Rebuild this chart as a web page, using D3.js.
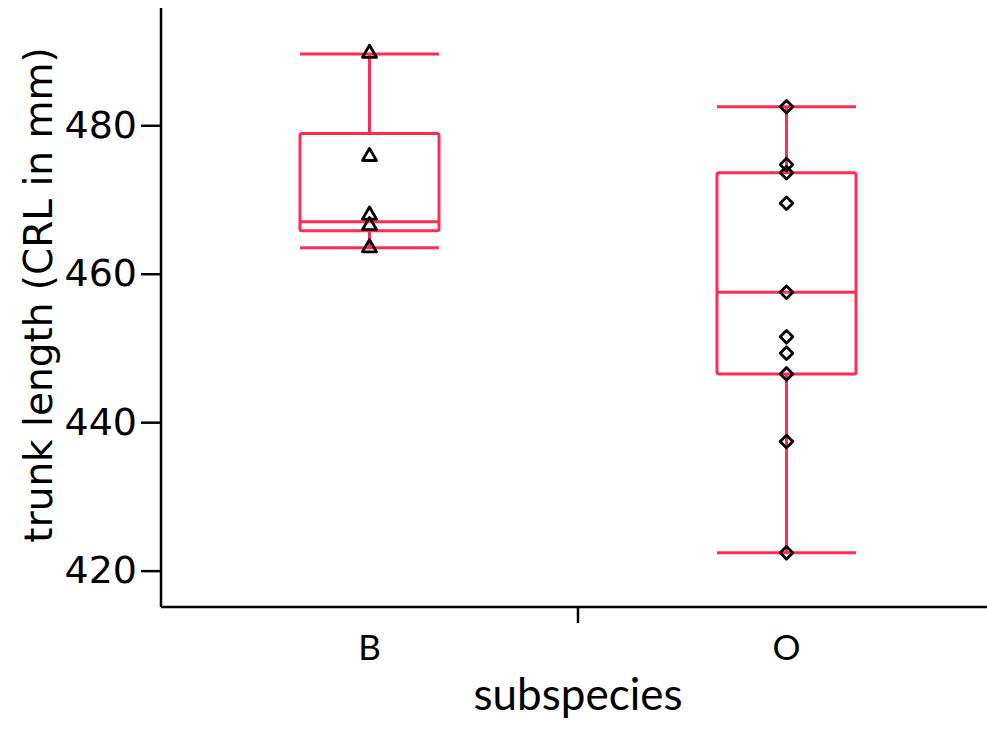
<!DOCTYPE html>
<html>
<head>
<meta charset="utf-8">
<script src="https://cdn.jsdelivr.net/npm/d3@7"></script>
<style>
  body { margin: 0; background: #fff; }
  text { font-family: Lato, "Open Sans", sans-serif; fill: #000; }
</style>
</head>
<body>
<script>
// data
var groups = ['B', 'O'];
var boxMin    = [463.5, 422.4];
var boxQ1     = [465.8, 446.5];
var boxMedian = [467.0, 457.5];
var boxQ3     = [478.9, 473.6];
var boxMax    = [489.6, 482.5];
var pointsB = [489.7, 475.8, 467.9, 466.5, 463.5];
var pointsO = [482.5, 474.7, 473.6, 469.5, 457.5, 451.5, 449.3, 446.5, 437.4, 422.4];
var yTicks = [420, 440, 460, 480];

var width = 987,
    height = 730,
    red = '#ff2d55';

var x = d3.scaleBand().domain(groups).range([161, 995]).padding(0),
    y = d3.scaleLinear().domain([415.1, 495.8]).range([607, 8]);

var svg = d3.select('body').append('svg')
    .attr('width', width)
    .attr('height', height);

// boxes
var boxW = x.bandwidth() / 3;
var boxes = groups.map(function(g, i) {
  return {g: g, min: boxMin[i], q1: boxQ1[i], med: boxMedian[i], q3: boxQ3[i], max: boxMax[i]};
});

var bx = svg.append('g').attr('class', 'boxes')
  .selectAll('g').data(boxes).enter().append('g')
  .attr('transform', function(d) { return 'translate(' + (x(d.g) + x.bandwidth() / 2) + ',0)'; })
  .style('stroke', red).style('stroke-width', 3).style('fill', 'none');

bx.append('line').attr('x1', 0).attr('x2', 0)
  .attr('y1', function(d) { return y(d.max); }).attr('y2', function(d) { return y(d.q3); });
bx.append('line').attr('x1', 0).attr('x2', 0)
  .attr('y1', function(d) { return y(d.q1); }).attr('y2', function(d) { return y(d.min); });
bx.append('line').attr('x1', -boxW / 2).attr('x2', boxW / 2)
  .attr('y1', function(d) { return y(d.max); }).attr('y2', function(d) { return y(d.max); });
bx.append('line').attr('x1', -boxW / 2).attr('x2', boxW / 2)
  .attr('y1', function(d) { return y(d.min); }).attr('y2', function(d) { return y(d.min); });
bx.append('rect').attr('x', -boxW / 2).attr('width', boxW)
  .attr('rx', 2)
  .attr('y', function(d) { return y(d.q3); })
  .attr('height', function(d) { return y(d.q1) - y(d.q3); });
bx.append('line').attr('x1', -boxW / 2).attr('x2', boxW / 2)
  .attr('y1', function(d) { return y(d.med); }).attr('y2', function(d) { return y(d.med); });

// points
var tri = d3.symbol().type(d3.symbolTriangle).size(85),
    dia = d3.symbol().type(d3.symbolSquare).size(80);

svg.append('g').selectAll('path').data(pointsB).enter().append('path')
  .attr('d', tri)
  .attr('transform', function(d) { return 'translate(' + (x('B') + x.bandwidth() / 2) + ',' + y(d) + ')'; })
  .style('fill', 'none').style('stroke', '#000').style('stroke-width', 2.8)
  .style('stroke-linejoin', 'round');

svg.append('g').selectAll('path').data(pointsO).enter().append('path')
  .attr('d', dia)
  .attr('transform', function(d) { return 'translate(' + (x('O') + x.bandwidth() / 2) + ',' + y(d) + ') rotate(45)'; })
  .style('fill', 'none').style('stroke', '#000').style('stroke-width', 2.8)
  .style('stroke-linejoin', 'round');

// axes
var axisY = svg.append('g')
  .attr('transform', 'translate(161,0)')
  .call(d3.axisLeft(y).tickValues(yTicks).tickSize(20).tickPadding(4));
axisY.select('.domain').attr('d', 'M0,' + y.range()[1] + 'V' + y.range()[0]);
axisY.selectAll('line, path').style('stroke', '#000').style('stroke-width', 2.5);
axisY.selectAll('text').style('font-family', '"DejaVu Sans", sans-serif').style('font-size', '38px');

var axisX = svg.append('g')
  .attr('transform', 'translate(0,607)')
  .call(d3.axisBottom(x).tickSize(0).tickPadding(28));
axisX.select('.domain').attr('d', 'M161,0H' + width);
axisX.selectAll('line, path').style('stroke', '#000').style('stroke-width', 2.5);
axisX.selectAll('text').style('font-size', '35px');

// divider tick between the categories
svg.append('line')
  .attr('x1', x('O')).attr('x2', x('O'))
  .attr('y1', 607).attr('y2', 623)
  .style('stroke', '#000').style('stroke-width', 2.5);

svg.append('text')
  .attr('x', 578).attr('y', 710)
  .attr('text-anchor', 'middle')
  .style('font-size', '44px')
  .text('subspecies');

svg.append('text')
  .attr('transform', 'translate(52,' + 295 + ') rotate(-90)')
  .attr('text-anchor', 'middle')
  .style('font-family', '"DejaVu Sans", sans-serif')
  .style('font-size', '39px')
  .text('trunk length (CRL in mm)');
</script>
</body>
</html>
